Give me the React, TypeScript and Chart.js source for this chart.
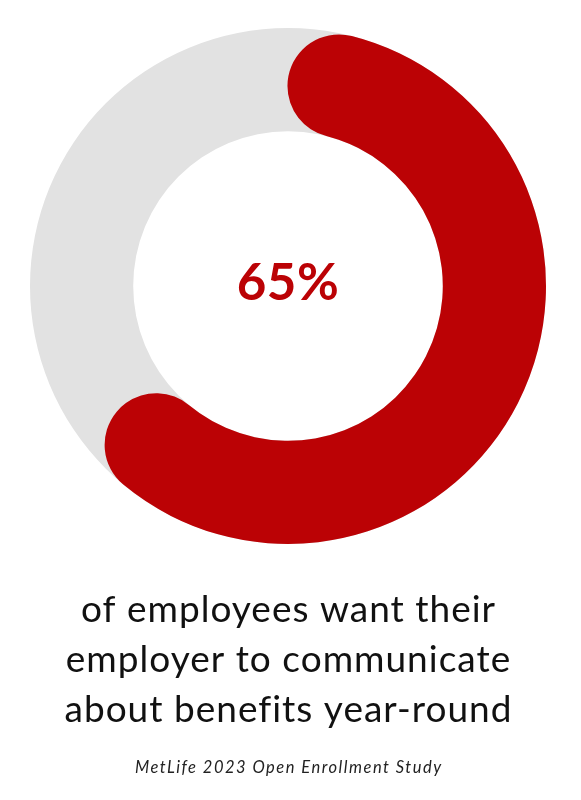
import React, { useEffect, useRef } from "react";
import { Chart, registerables } from "chart.js";

Chart.register(...registerables);

const categories = ["Want year-round communication", "Other"];
const values = [65, 35];
const centerLabel = "65%";
const captionLines = [
  "of employees want their",
  "employer to communicate",
  "about benefits year-round",
];
const sourceLabel = "MetLife 2023 Open Enrollment Study";

const RED = "#BB0205";
const GRAY = "#E2E2E2";
const FONT = "Lato, 'Open Sans', sans-serif";

const ringPlugin = {
  id: "ringBg",
  beforeDatasetsDraw(chart: any) {
    const meta = chart.getDatasetMeta(0);
    const arc = meta.data[0];
    if (!arc) return;
    const { x, y, innerRadius, outerRadius } = arc;
    const ctx = chart.ctx;
    ctx.save();
    ctx.beginPath();
    ctx.arc(x, y, outerRadius, 0, Math.PI * 2);
    ctx.arc(x, y, innerRadius, Math.PI * 2, 0, true);
    ctx.closePath();
    ctx.fillStyle = GRAY;
    ctx.fill("evenodd");
    ctx.restore();
  },
};

const textPlugin = {
  id: "texts",
  afterDraw(chart: any) {
    const meta = chart.getDatasetMeta(0);
    const arc = meta.data[0];
    if (!arc) return;
    const ctx = chart.ctx;
    const cx = arc.x;
    ctx.save();
    ctx.textAlign = "center";
    ctx.textBaseline = "middle";
    ctx.fillStyle = RED;
    ctx.font = `bold 51px ${FONT}`;
    (ctx as any).letterSpacing = "0.5px";
    ctx.fillText(centerLabel, cx, arc.y - 2);

    ctx.textBaseline = "alphabetic";
    ctx.fillStyle = "#111111";
    ctx.font = `37px ${FONT}`;
    (ctx as any).letterSpacing = "1px";
    const bottom = chart.chartArea.bottom;
    captionLines.forEach((line, i) => {
      ctx.fillText(line, cx + 0.5, bottom + 78 + i * 50);
    });
    ctx.fillStyle = "#222222";
    ctx.font = `italic 16.5px ${FONT}`;
    (ctx as any).letterSpacing = "1.5px";
    ctx.fillText(sourceLabel, cx + 0.75, bottom + 229);
    ctx.restore();
  },
};

export default function App() {
  const ref = useRef<HTMLCanvasElement | null>(null);
  useEffect(() => {
    if (!ref.current) return;
    const chart = new Chart(ref.current, {
      type: "doughnut",
      data: {
        labels: categories,
        datasets: [
          {
            data: values,
            backgroundColor: [RED, "rgba(0,0,0,0)"],
            borderWidth: 0,
            borderRadius: [52, 0] as any,
            hoverOffset: 0,
          },
        ],
      },
      options: {
        animation: false,
        responsive: false,
        cutout: "60%",
        layout: { padding: { left: 30, top: 28, right: 35, bottom: 256 } },
        plugins: {
          legend: { display: false },
          tooltip: { enabled: false },
          title: { display: false },
        },
        events: [],
      },
      plugins: [ringPlugin, textPlugin],
    });
    return () => chart.destroy();
  }, []);
  return (
    <div style={{ position: "absolute", left: 0, top: 0, width: 581, height: 800, background: "#fff" }}>
      <canvas ref={ref} width={581} height={800} style={{ width: 581, height: 800, display: "block" }} />
    </div>
  );
}
